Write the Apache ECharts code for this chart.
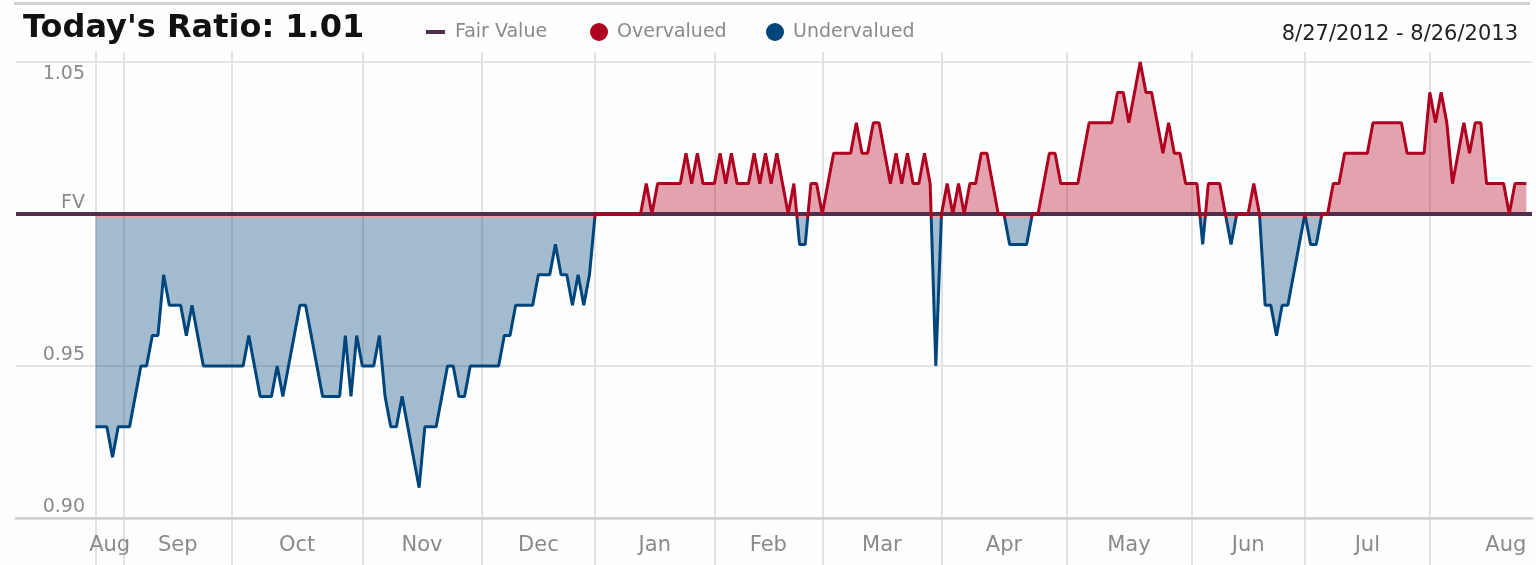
<!DOCTYPE html>
<html>
<head>
<meta charset="utf-8">
<script src="https://cdn.jsdelivr.net/npm/echarts@6/dist/echarts.min.js"></script>
<style>
html,body{margin:0;padding:0;background:#fefefe;}
#chart{width:1536px;height:565px;}
</style>
</head>
<body>
<div id="chart"></div>
<script>
// ---------- data ----------
const titleText = "Today's Ratio: 1.01";
const dateRangeText = "8/27/2012 - 8/26/2013";
const legendNames = ["Fair Value", "Overvalued", "Undervalued"];
const monthNames = ["Aug","Sep","Oct","Nov","Dec","Jan","Feb","Mar","Apr","May","Jun","Jul","Aug"];
// trading days shown in each month (8/27/2012 .. 8/26/2013)
const monthTradingDays = [5,19,23,21,20,21,19,21,22,22,20,22,18];
const fairValue = 1.00;
const yTickValues = [0.90, 0.95, 1.00, 1.05];
const ratioValues = [
  .93,.93,.93,.92,.93,.93,.93,.94,.95,.95,
  .96,.96,.98,.97,.97,.97,.96,.97,.96,.95,
  .95,.95,.95,.95,.95,.95,.95,.96,.95,.94,
  .94,.94,.95,.94,.95,.96,.97,.97,.96,.95,
  .94,.94,.94,.94,.96,.94,.96,.95,.95,.95,
  .96,.94,.93,.93,.94,.93,.92,.91,.93,.93,
  .93,.94,.95,.95,.94,.94,.95,.95,.95,.95,
  .95,.95,.96,.96,.97,.97,.97,.97,.98,.98,
  .98,.99,.98,.98,.97,.98,.97,.98,1.00,1.00,
  1.00,1.00,1.00,1.00,1.00,1.00,1.00,1.01,1.00,1.01,
  1.01,1.01,1.01,1.01,1.02,1.01,1.02,1.01,1.01,1.01,
  1.02,1.01,1.02,1.01,1.01,1.01,1.02,1.01,1.02,1.01,
  1.02,1.01,1.00,1.01,.99,.99,1.01,1.01,1.00,1.01,
  1.02,1.02,1.02,1.02,1.03,1.02,1.02,1.03,1.03,1.02,
  1.01,1.02,1.01,1.02,1.01,1.01,1.02,1.01,.95,1.00,
  1.01,1.00,1.01,1.00,1.01,1.01,1.02,1.02,1.01,1.00,
  1.00,.99,.99,.99,.99,1.00,1.00,1.01,1.02,1.02,
  1.01,1.01,1.01,1.01,1.02,1.03,1.03,1.03,1.03,1.03,
  1.04,1.04,1.03,1.04,1.05,1.04,1.04,1.03,1.02,1.03,
  1.02,1.02,1.01,1.01,1.01,.99,1.01,1.01,1.01,1.00,
  .99,1.00,1.00,1.00,1.01,1.00,.97,.97,.96,.97,
  .97,.98,.99,1.00,.99,.99,1.00,1.00,1.01,1.01,
  1.02,1.02,1.02,1.02,1.02,1.03,1.03,1.03,1.03,1.03,
  1.03,1.02,1.02,1.02,1.02,1.04,1.03,1.04,1.03,1.01,
  1.02,1.03,1.02,1.03,1.03,1.01,1.01,1.01,1.01,1.00,
  1.01,1.01,1.01
];

// ---------- derived ----------
const n = ratioValues.length;
const monthStarts = [];
(function(){ let acc = 0; monthTradingDays.forEach(d => { monthStarts.push(acc); acc += d; }); })();
const monthLabelPos = monthStarts.map((s, k) =>
  k === monthStarts.length - 1 ? n - 1 : s + monthTradingDays[k] / 2);
const seriesData = ratioValues.map((v, i) => [i, v]);
const yMin = yTickValues[0], yMax = yTickValues[yTickValues.length - 1];

const FONT = "'DejaVu Sans', Verdana, sans-serif";
const RED = '#b0001f';
const BLUE = '#00457c';
const GRAY_TXT = '#8a8a8a';
const X_MIN = -14, X_MAX = 253;
const SPLIT = fairValue - 0.0012;

const chart = echarts.init(document.getElementById('chart'), null, {renderer: 'canvas'});

const option = {
  animation: false,
  backgroundColor: '#fefefe',
  title: {
    text: titleText, left: 18, top: 8,
    textStyle: {fontFamily: FONT, fontSize: 32, fontWeight: 'bold', color: '#111'}
  },
  grid: [
    {left: 16, right: 4, top: 62, bottom: 47, outerBoundsMode: 'none', containLabel: false},
    {left: 16, right: 4, top: 52, bottom: 0, outerBoundsMode: 'none', containLabel: false}
  ],
  xAxis: [
    {
      gridIndex: 0, type: 'value', min: X_MIN, max: X_MAX,
      axisLine: {show: true, lineStyle: {color: '#cfcfcf', width: 2.5}},
      axisTick: {show: false},
      splitLine: {show: false},
      axisLabel: {
        customValues: monthLabelPos,
        formatter: v => {
          const k = monthLabelPos.findIndex(p => Math.abs(p - v) < 1e-6);
          return k >= 0 ? monthNames[k] : '';
        },
        alignMaxLabel: 'right',
        color: GRAY_TXT, fontFamily: FONT, fontSize: 21, margin: 17
      }
    },
    {
      gridIndex: 1, type: 'value', min: X_MIN, max: X_MAX,
      axisLine: {show: false},
      axisTick: {show: false, customValues: monthStarts},
      axisLabel: {show: false},
      splitLine: {show: true, lineStyle: {color: '#e2e2e2', width: 2}}
    }
  ],
  yAxis: [
    {
      gridIndex: 0, type: 'value', min: yMin, max: yMax,
      interval: 0.05,
      axisLine: {show: false}, axisTick: {show: false},
      splitLine: {show: true, lineStyle: {color: '#e4e4e4', width: 2}},
      axisLabel: {
        inside: true, margin: 69, align: 'right', verticalAlign: 'middle',
        formatter: v => {
          if (Math.abs(v - fairValue) < 1e-9) return '{b|FV}';
          const s = v.toFixed(2);
          if (Math.abs(v - yMax) < 1e-9) return '{t|' + s + '}';
          return '{b|' + s + '}';
        },
        rich: {
          t: {fontFamily: FONT, fontSize: 19, color: GRAY_TXT, padding: [24, 0, 0, 0]},
          b: {fontFamily: FONT, fontSize: 19, color: GRAY_TXT, padding: [0, 0, 21, 0]}
        }
      }
    },
    {gridIndex: 1, type: 'value', min: 0, max: 1, show: false}
  ],
  visualMap: {
    show: false, type: 'piecewise', dimension: 1, seriesIndex: [0, 1],
    pieces: [
      {gt: yMin - 0.5, lte: SPLIT, color: BLUE},
      {gt: SPLIT, lte: yMax + 0.5, color: RED}
    ],
    outOfRange: {color: '#999'}
  },
  series: [
    {
      name: 'area', type: 'line', xAxisIndex: 0, yAxisIndex: 0,
      data: seriesData, symbol: 'none', showSymbol: false, silent: true, z: 1,
      lineStyle: {width: 0},
      areaStyle: {origin: fairValue, opacity: 0.36},
      markLine: {
        silent: true, symbol: 'none', label: {show: false}, z: 2,
        lineStyle: {color: '#4f2f4d', width: 4, type: 'solid'},
        data: [{yAxis: fairValue}]
      }
    },
    {
      name: 'ratio', type: 'line', xAxisIndex: 0, yAxisIndex: 0,
      data: seriesData, symbol: 'none', showSymbol: false, silent: true, z: 3,
      lineStyle: {width: 3}
    }
  ],
  graphic: [
    {type: 'rect', shape: {x: 14, y: 2, width: 1516, height: 3}, style: {fill: '#d2d2d2'}, silent: true},
    {type: 'line', shape: {x1: 426, y1: 32, x2: 445, y2: 32}, style: {stroke: '#4f2f4d', lineWidth: 4}},
    {type: 'text', x: 455, y: 32, style: {text: legendNames[0], fontFamily: FONT, fontSize: 19, fill: GRAY_TXT, verticalAlign: 'middle'}},
    {type: 'circle', shape: {cx: 599, cy: 32, r: 9}, style: {fill: RED}},
    {type: 'text', x: 617, y: 32, style: {text: legendNames[1], fontFamily: FONT, fontSize: 19, fill: GRAY_TXT, verticalAlign: 'middle'}},
    {type: 'circle', shape: {cx: 775, cy: 32, r: 9}, style: {fill: BLUE}},
    {type: 'text', x: 793, y: 32, style: {text: legendNames[2], fontFamily: FONT, fontSize: 19, fill: GRAY_TXT, verticalAlign: 'middle'}},
    {type: 'text', x: 1518, y: 35, style: {text: dateRangeText, fontFamily: FONT, fontSize: 21, fill: '#222', align: 'right', verticalAlign: 'middle'}}
  ]
};
chart.setOption(option);
</script>
</body>
</html>
